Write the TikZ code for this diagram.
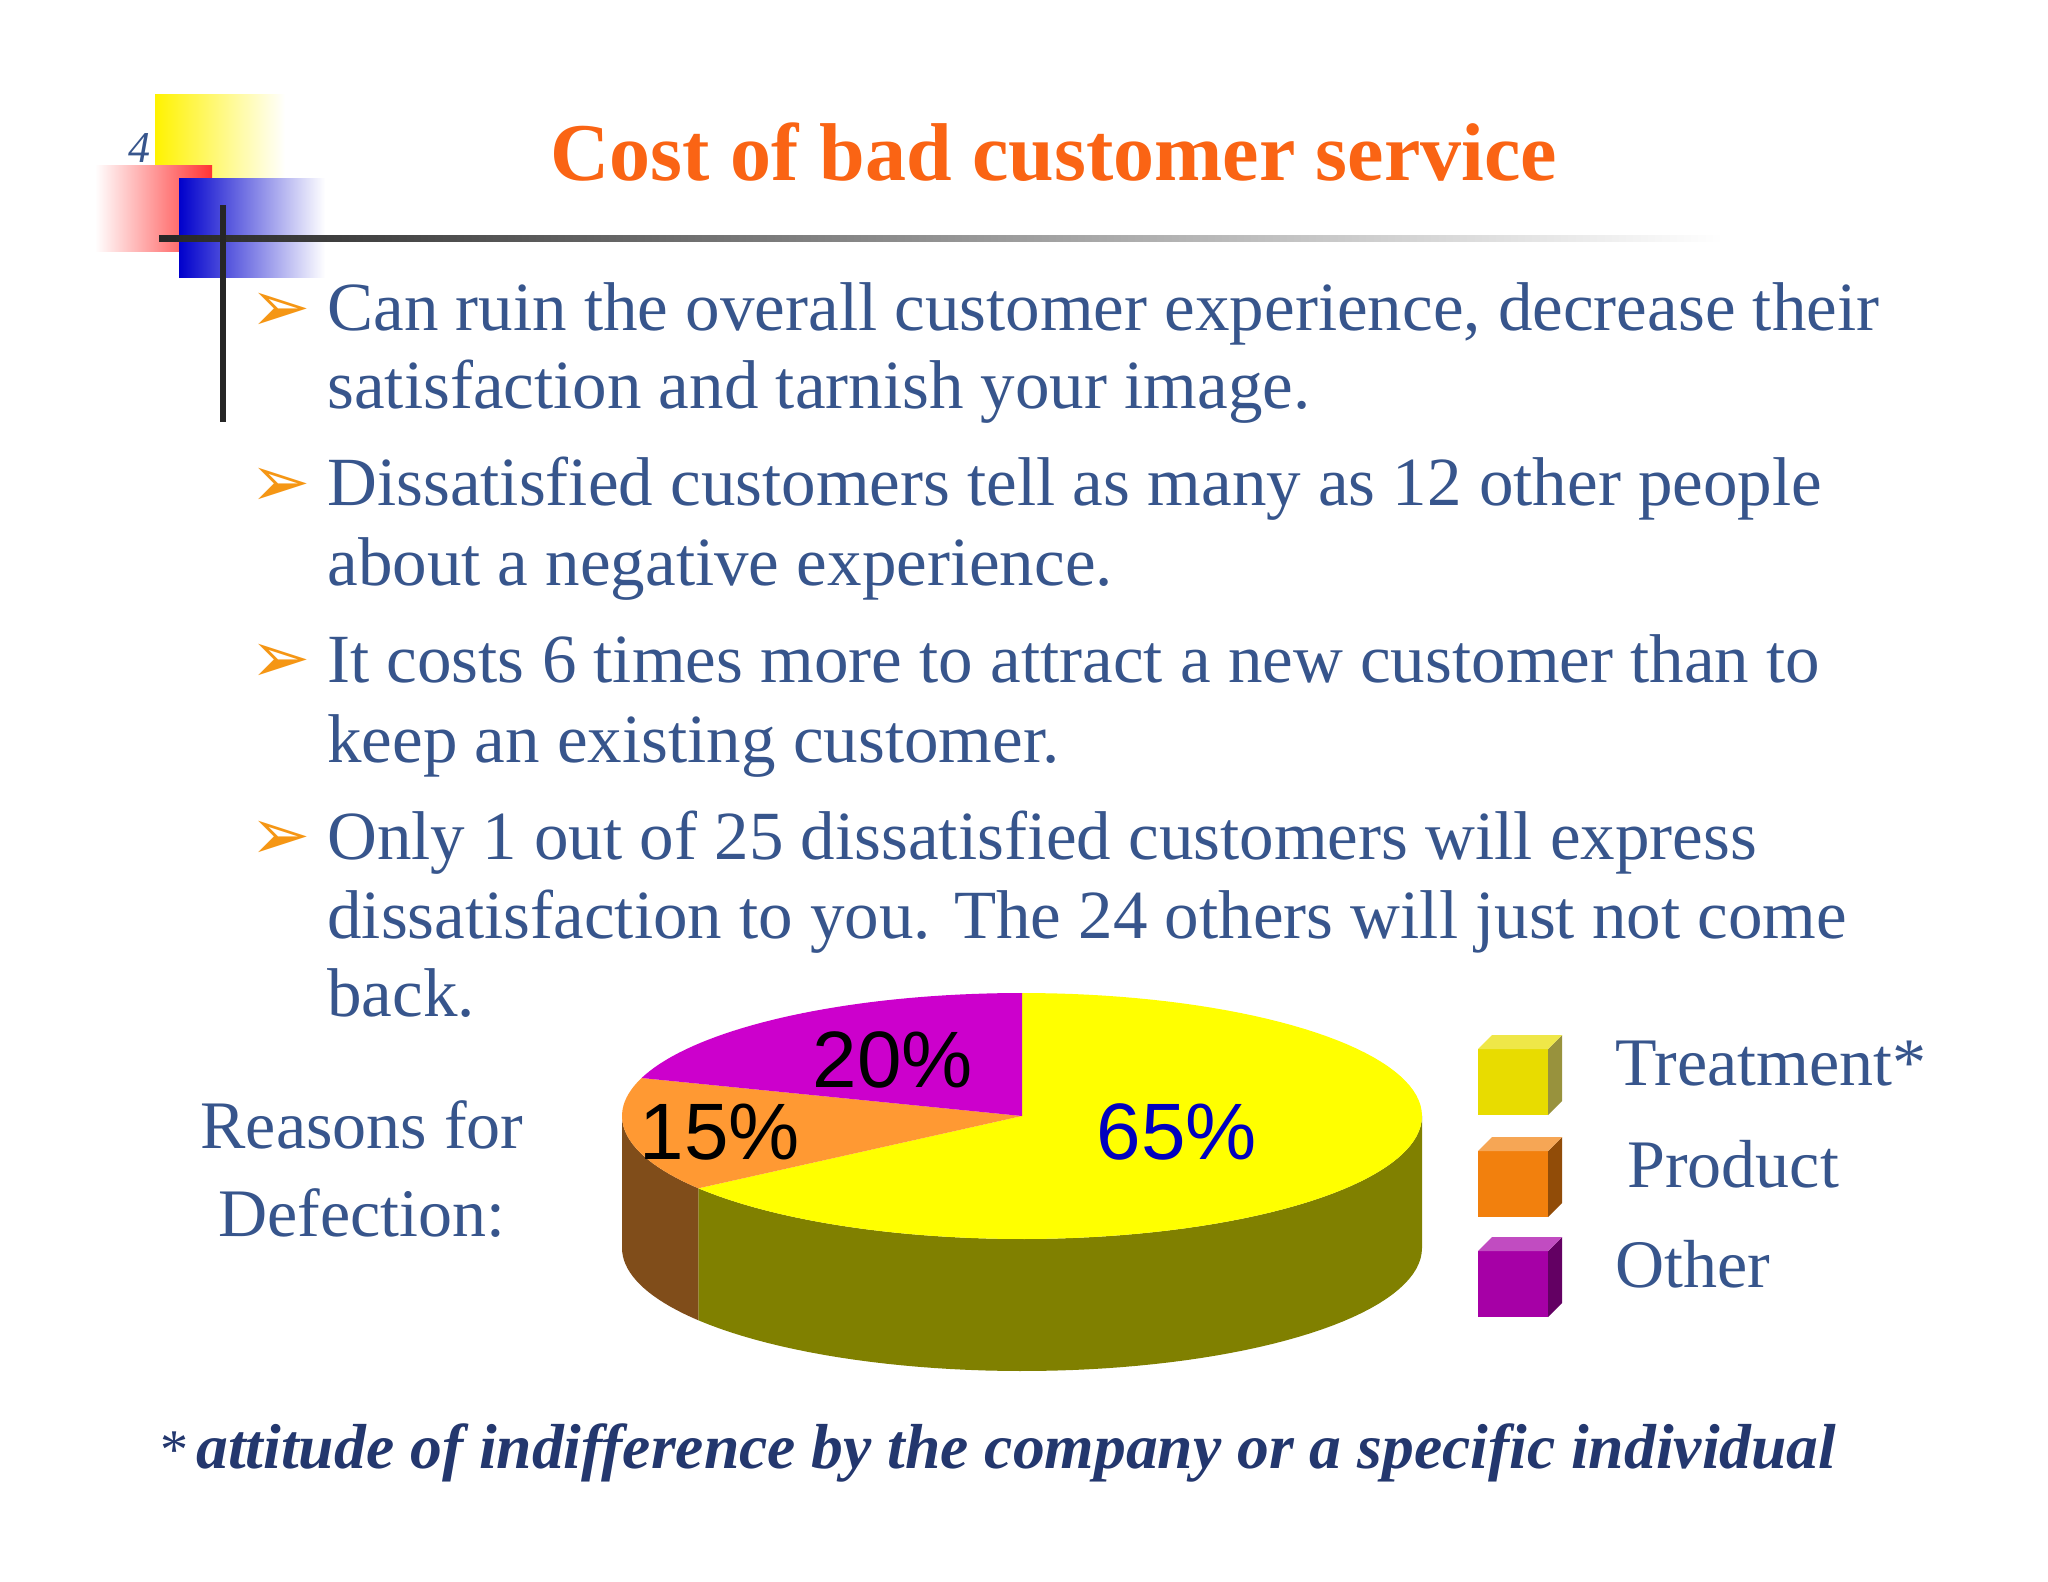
\documentclass[tikz,border=0pt]{standalone}
\usepackage{fontspec}
\setmainfont{Liberation Serif}
\newfontfamily\arialf{Liberation Sans}
\definecolor{txt}{RGB}{55,85,140}
\definecolor{ttl}{RGB}{250,100,20}
\definecolor{arr}{RGB}{245,150,20}
\definecolor{pY}{RGB}{255,255,0}
\definecolor{pYs}{RGB}{128,128,0}
\definecolor{pO}{RGB}{255,153,51}
\definecolor{pOs}{RGB}{128,77,26}
\definecolor{pP}{RGB}{204,0,204}
\definecolor{foot}{RGB}{35,55,110}
\begin{document}
\begin{tikzpicture}[x=0.5pt,y=-0.5pt,
  bul/.style={anchor=base west,inner sep=0,text=txt,font=\fontsize{34.5}{38}\selectfont},
  pct/.style={inner sep=0,font=\arialf\fontsize{40}{46}\selectfont},
  leg/.style={anchor=base west,inner sep=0,text=txt,font=\fontsize{34}{38}\selectfont}]
\useasboundingbox (0,0) rectangle (2048,1582);
\fill[white] (0,0) rectangle (2048,1582);
% logo
\shade[left color=yellow!90!orange,right color=white] (155,95) rectangle (285,212);
\shade[left color=white,right color=red!80] (95,166) rectangle (212,252);
\shade[left color=blue!80!black,right color=white] (179,179) rectangle (325,278);
\shade[left color=black!85,right color=white] (159,236) rectangle (1723,242);
\draw[line width=3pt,black!85] (223,205) -- (223,422);
\node[inner sep=0,font=\itshape\fontsize{22}{24}\selectfont,text=txt] (pg) at (139,148) {4};
\node[inner sep=0,text=ttl,font=\bfseries\fontsize{41}{46}\selectfont] (title) at (1054,152) {Cost of bad customer service};
% bullets
\foreach \y/\n in {318/a,493/b,669/c,846/d}{
  \node[inner sep=0,text=arr,font=\fontsize{36}{38}\selectfont\fontspec{DejaVu Sans}] (ar\n) at (281,\y-6) {➢};}
\node[bul] (l1) at (327,331) {Can ruin the overall customer experience, decrease their};
\node[bul] (l2) at (327,409) {satisfaction and tarnish your image.};
\node[bul] (l3) at (327,506) {Dissatisfied customers tell as many as 12 other people};
\node[bul] (l4) at (327,586) {about a negative experience.};
\node[bul] (l5) at (327,682) {It costs 6 times more to attract a new customer than to};
\node[bul] (l6) at (327,762) {keep an existing customer.};
\node[bul] (l7) at (327,859) {Only 1 out of 25 dissatisfied customers will express};
\node[bul] (l8) at (327,938) {dissatisfaction to you. The 24 others will just not come};
\node[bul] (l9) at (327,1016) {back.};
\node[inner sep=0,text=txt,font=\fontsize{34}{38}\selectfont] (r1) at (362,1125) {Reasons for};
\node[inner sep=0,text=txt,font=\fontsize{34}{38}\selectfont] (r2) at (362,1213) {Defection:};
% pie
\def\cx{1022}\def\cy{1116}\def\rx{400}\def\ry{123}\def\dd{132}
\fill[pYs] plot[domain=216:360,samples=60] ({\cx+\rx*cos(\x)},{\cy-\ry*sin(\x)}) -- plot[domain=360:216,samples=60] ({\cx+\rx*cos(\x)},{\cy+\dd-\ry*sin(\x)}) -- cycle;
\fill[pOs] plot[domain=180:216,samples=20] ({\cx+\rx*cos(\x)},{\cy-\ry*sin(\x)}) -- plot[domain=216:180,samples=20] ({\cx+\rx*cos(\x)},{\cy+\dd-\ry*sin(\x)}) -- cycle;
\fill[pY] (\cx,\cy) -- plot[domain=90:-144,samples=100] ({\cx+\rx*cos(\x)},{\cy-\ry*sin(\x)}) -- cycle;
\fill[pO] (\cx,\cy) -- plot[domain=216:162,samples=30] ({\cx+\rx*cos(\x)},{\cy-\ry*sin(\x)}) -- cycle;
\fill[pP] (\cx,\cy) -- plot[domain=162:90,samples=40] ({\cx+\rx*cos(\x)},{\cy-\ry*sin(\x)}) -- cycle;
\node[pct] (p20) at (893,1060) {20\%};
\node[pct] (p15) at (720,1132) {15\%};
\node[pct,text=blue!75!black] (p65) at (1177,1132) {65\%};
% legend cubes
\foreach \y/\c/\n in {1035/yellow!80!olive/a,1137/orange!80!brown/b,1237/violet!70!magenta/c}{
  \fill[\c] (1478,\y+14) rectangle (1548,\y+80);
  \fill[\c!60!black] (1548,\y+14) -- (1562,\y) -- (1562,\y+66) -- (1548,\y+80) -- cycle;
  \fill[\c!70!white] (1478,\y+14) -- (1492,\y) -- (1562,\y) -- (1548,\y+14) -- cycle;
}
\node[leg] (t1) at (1615,1085) {Treatment*};
\node[leg] (t2) at (1627,1187) {Product};
\node[leg] (t3) at (1615,1287) {Other};
\node[anchor=base west,inner sep=0,text=foot,font=\fontsize{28}{32}\selectfont] (st) at (160,1468) {*};
\node[anchor=base west,inner sep=0,text=foot,font=\bfseries\itshape\fontsize{31.8}{34}\selectfont] (ft) at (196,1468) {attitude of indifference by the company or a specific individual};
\end{tikzpicture}
\end{document}
